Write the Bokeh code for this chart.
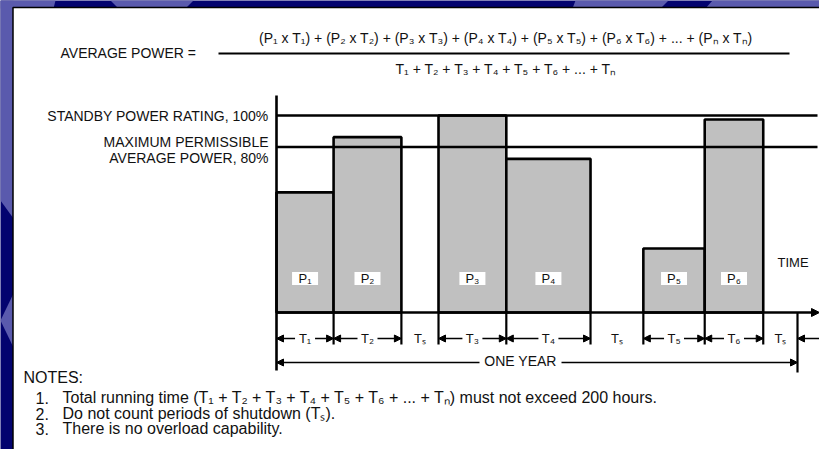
import numpy as np
from bokeh.plotting import figure
from bokeh.models import Range1d, ColumnDataSource, Arrow, NormalHead
from bokeh.core.properties import value
from bokeh.embed import file_html
from bokeh.resources import INLINE

# ---------------- data ----------------
period_labels = ["T₁", "T₂", "Tₛ", "T₃", "T₄", "Tₛ", "T₅", "T₆", "Tₛ"]
period_days = [40, 47.5, 26, 47.5, 59, 37, 43, 41, 24]          # one year = 365 days
period_running = [1, 1, 0, 1, 1, 0, 1, 1, 0]
power_labels = ["P₁", "P₂", "P₃", "P₄", "P₅", "P₆"]
power_pct = [61, 89, 100, 78, 32.5, 98]                          # % of standby rating
level_pct = [100, 84]
level_text = ["STANDBY POWER RATING, 100%", "MAXIMUM PERMISSIBLE", "AVERAGE POWER, 80%"]
formula_lhs = "AVERAGE POWER ="
formula_num = "(P₁ x T₁) + (P₂ x T₂) + (P₃ x T₃) + (P₄ x T₄) + (P₅ x T₅) + (P₆ x T₆) + ... + (Pₙ x Tₙ)"
formula_den = "T₁ + T₂ + T₃ + T₄ + T₅ + T₆ + ... + Tₙ"
time_label = "TIME"
year_label = "ONE YEAR"
notes_title = "NOTES:"
note_numbers = ["1.", "2.", "3."]
notes = ["Total running time (T₁ + T₂ + T₃ + T₄ + T₅ + T₆ + ... + Tₙ) must not exceed 200 hours.",
         "Do not count periods of shutdown (Tₛ).",
         "There is no overload capability."]

# ---------------- layout ----------------
W, H = 819, 449
AX_X, BASE_Y = 276, 312          # pixel position of origin
KX = 521 / 365.0                  # px per day
KY = 1.97                         # px per percent
FONT = value("Liberation Sans")
INK = "#111111"
NAVY = "#03036f"
LIGHT = "#5a5aad"

x_range = Range1d(-AX_X / KX, (W - AX_X) / KX)
y_range = Range1d((BASE_Y - H) / KY, BASE_Y / KY)

p = figure(width=W, height=H, x_range=x_range, y_range=y_range,
           x_axis_location=None, y_axis_location=None, toolbar_location=None,
           output_backend="svg", min_border=0, title=None,
           background_fill_color=NAVY, border_fill_color=NAVY,
           outline_line_color=None)
p.xgrid.visible = False
p.ygrid.visible = False
p.extra_x_ranges = {"px": Range1d(0, W)}
p.extra_y_ranges = {"px": Range1d(H, 0)}
PX = dict(x_range_name="px", y_range_name="px")

# background decoration (slide template)
deco_x = [[0, 13, 13, 0], [0, 13, 13], [0, 55, 53, 0], [110, 193, 185, 118], [575, 668, 660, 572],
          [712, 819, 819, 705]]
deco_y = [[0, 0, 218, 200], [320, 293, 347], [0, 0, 8, 8], [0, 0, 8, 8], [0, 0, 8, 8],
          [0, 0, 8, 8]]
p.patches(deco_x, deco_y, fill_color=LIGHT, line_color=None, **PX)
p.quad(left=12.5, right=900, top=7, bottom=500, fill_color="white",
       line_color="black", line_width=1.5, **PX)

# formula
p.text(x=[60], y=[52], text=[formula_lhs], text_font=FONT, text_font_size="14px",
       text_color=INK, text_align="left", text_baseline="middle", **PX)
p.text(x=[506], y=[37], text=[formula_num], text_font=FONT, text_font_size="14px",
       text_color=INK, text_align="center", text_baseline="middle", **PX)
p.segment(x0=[218], y0=[53], x1=[789], y1=[53], line_color="black", line_width=2.2, **PX)
p.text(x=[506], y=[68], text=[formula_den], text_font=FONT, text_font_size="14px",
       text_color=INK, text_align="center", text_baseline="middle", **PX)

# bars
ends = np.cumsum(period_days)
starts = ends - np.array(period_days)
run_idx = [i for i, r in enumerate(period_running) if r]
bars = ColumnDataSource(dict(left=starts[run_idx], right=ends[run_idx], top=power_pct,
                             xc=(starts[run_idx] + ends[run_idx]) / 2, label=power_labels))
p.quad(left="left", right="right", bottom=0, top="top", source=bars,
       fill_color="#c0c0c0", line_color="black", line_width=2.6)

# reference levels
x_end = x_range.end - 2 / KX
p.segment(x0=[0, 0], y0=level_pct, x1=[x_end, x_end], y1=level_pct,
          line_color="black", line_width=2.4)
p.text(x=[268, 268, 268], y=[115, 141, 157], text=level_text, text_font=FONT,
       text_font_size="14px", text_color=INK, text_align="right", text_baseline="middle", **PX)

# axes
p.add_layout(Arrow(x_start=0, y_start=0, x_end=x_range.end, y_end=0,
                   end=NormalHead(size=8, fill_color="black", line_color="black"),
                   line_color="black", line_width=2.6))
p.segment(x0=[0], y0=[95], x1=[0], y1=[370], line_color="black", line_width=2.6,
          y_range_name="px")

# P labels
p.rect(x="xc", y=BASE_Y - 34, width=26, height=13, width_units="screen", height_units="screen",
       source=bars, fill_color="white", line_color=None, y_range_name="px")
p.text(x="xc", y=BASE_Y - 34, text="label", source=bars, text_font=FONT, text_font_size="13px",
       text_color=INK, text_align="center", text_baseline="middle", y_range_name="px")
p.text(x=[777], y=[262], text=[time_label], text_font=FONT, text_font_size="13px",
       text_color=INK, text_align="left", text_baseline="middle", **PX)

# boundary ticks
bounds = ends
tick_bottom = [344] * (len(bounds) - 1) + [372]
p.segment(x0=bounds, y0=[BASE_Y] * len(bounds), x1=bounds, y1=tick_bottom,
          line_color="black", line_width=2.2, y_range_name="px")

# dimension arrows
DIM_Y = 338
mids = (starts + ends) / 2
xs, xe = [], []
for i, r in enumerate(period_running):
    if r:
        xs += [mids[i], mids[i]]
        xe += [starts[i], ends[i]]
xs.append(ends[-1] + 40)
xe.append(ends[-1])
arr = ColumnDataSource(dict(xs=xs, xe=xe, ys=[DIM_Y] * len(xs), ye=[DIM_Y] * len(xs)))
p.add_layout(Arrow(x_start="xs", y_start="ys", x_end="xe", y_end="ye", source=arr,
                   end=NormalHead(size=7, fill_color="black", line_color="black"),
                   line_color="black", line_width=1.6, y_range_name="px"))

YEAR_Y = 362
p.add_layout(Arrow(x_start=0, y_start=YEAR_Y, x_end=float(ends[-1]), y_end=YEAR_Y,
                   start=NormalHead(size=7, fill_color="black", line_color="black"),
                   end=NormalHead(size=7, fill_color="black", line_color="black"),
                   line_color="black", line_width=1.3, y_range_name="px"))

per = ColumnDataSource(dict(x=mids, label=period_labels))
p.rect(x="x", y=DIM_Y, width=20, height=13, width_units="screen", height_units="screen",
       source=per, fill_color="white", line_color=None, level="overlay", y_range_name="px")
p.text(x="x", y=DIM_Y, text="label", source=per, text_font=FONT, text_font_size="13px",
       text_color=INK, text_align="center", text_baseline="middle", level="overlay",
       y_range_name="px")
p.rect(x=[520], y=[YEAR_Y - 1], width=82, height=14, width_units="screen", height_units="screen",
       fill_color="white", line_color=None, level="overlay", **PX)
p.text(x=[520], y=[YEAR_Y - 2], text=[year_label], text_font=FONT, text_font_size="14px",
       text_color=INK, text_align="center", text_baseline="middle", level="overlay", **PX)

# notes
p.text(x=[23], y=[377], text=[notes_title], text_font=FONT, text_font_size="16px",
       text_color=INK, text_align="left", text_baseline="middle", **PX)
p.text(x=[35, 35, 35], y=[397, 413, 428], text=note_numbers, text_font=FONT,
       text_font_size="16px", text_color=INK, text_align="left", text_baseline="middle", **PX)
p.text(x=[62, 62, 62], y=[397, 413, 428], text=notes, text_font=FONT,
       text_font_size="16px", text_color=INK, text_align="left", text_baseline="middle", **PX)

open("out.html", "w").write(file_html(p, INLINE))
